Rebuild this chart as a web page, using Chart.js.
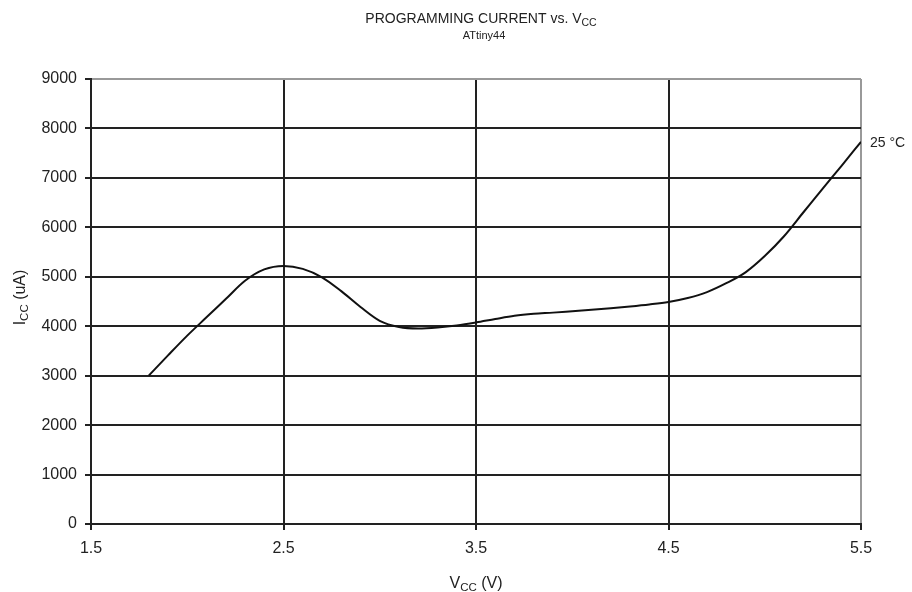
<!DOCTYPE html>
<html>
<head>
<meta charset="utf-8">
<script src="https://cdn.jsdelivr.net/npm/chart.js@4/dist/chart.umd.min.js"></script>
<style>
html,body{margin:0;padding:0;background:#fff;}
#wrap{width:912px;height:592px;position:relative;}
</style>
</head>
<body>
<div id="wrap"><canvas id="c" width="912" height="592"></canvas></div>
<script>
// ---- data ----
const vcc = [1.8,1.9,2.0,2.1,2.2,2.3,2.4,2.5,2.6,2.7,2.8,2.9,3.0,3.1,3.2,3.3,3.4,3.5,3.6,3.7,3.8,3.9,4.0,4.1,4.2,4.3,4.4,4.5,4.6,4.7,4.8,4.9,5.0,5.1,5.2,5.3,5.4,5.5];
const icc25 = [3000,3410,3810,4180,4550,4920,5150,5220,5160,4990,4710,4390,4110,3985,3955,3975,4015,4075,4145,4210,4250,4275,4305,4335,4365,4400,4440,4490,4570,4690,4870,5090,5420,5820,6300,6780,7250,7730];
const xTicks = [1.5,2.5,3.5,4.5,5.5];
const yTicks = [0,1000,2000,3000,4000,5000,6000,7000,8000,9000];
const seriesLabel = '25 °C';
const titleMain = 'PROGRAMMING CURRENT vs. V';
const titleSub = 'CC';
const subtitle = 'ATtiny44';
const xTitle = ['V','CC',' (V)'];
const yTitle = ['I','CC',' (uA)'];

const FONT = '"Liberation Sans", Arial, Helvetica, sans-serif';
const TXT = '#222';
const DARK = '#222';
const GRAY = '#999';

function drawSub(ctx, parts, x, y, big, small, align) {
  ctx.font = big + 'px ' + FONT;
  const w0 = ctx.measureText(parts[0]).width;
  const w2 = ctx.measureText(parts[2]).width;
  ctx.font = small + 'px ' + FONT;
  const w1 = ctx.measureText(parts[1]).width;
  const total = w0 + w1 + w2;
  let sx = align === 'center' ? x - total / 2 : x;
  ctx.textBaseline = 'alphabetic';
  ctx.textAlign = 'left';
  ctx.font = big + 'px ' + FONT;
  ctx.fillText(parts[0], sx, y);
  ctx.font = small + 'px ' + FONT;
  ctx.fillText(parts[1], sx + w0, y + big * 0.18);
  ctx.font = big + 'px ' + FONT;
  ctx.fillText(parts[2], sx + w0 + w1, y);
}

const textPlugin = {
  id: 'texts',
  afterDraw(chart) {
    const ctx = chart.ctx;
    const a = chart.chartArea;
    const cx = (a.left + a.right) / 2;
    ctx.save();
    ctx.fillStyle = TXT;
    drawSub(ctx, [titleMain, titleSub, ''], cx + 5, 23, 14, 10.5, 'center');
    ctx.font = '11px ' + FONT;
    ctx.textAlign = 'center';
    ctx.textBaseline = 'middle';
    ctx.fillText(subtitle, cx + 8, 36);
    drawSub(ctx, xTitle, cx, 588, 16, 11.5, 'center');
    ctx.save();
    ctx.translate(25, (a.top + a.bottom) / 2 - 4);
    ctx.rotate(-Math.PI / 2);
    drawSub(ctx, yTitle, 0, 0, 16, 11.5, 'center');
    ctx.restore();
    const ds = chart.getDatasetMeta(0);
    const last = ds.data[ds.data.length - 1];
    ctx.font = '14px ' + FONT;
    ctx.textAlign = 'left';
    ctx.textBaseline = 'middle';
    ctx.fillText(seriesLabel, a.right + 9, last.y + 1);
    ctx.restore();
  }
};

new Chart(document.getElementById('c'), {
  type: 'line',
  data: {
    datasets: [{
      label: seriesLabel,
      data: vcc.map((v, i) => ({x: v, y: icc25[i]})),
      borderColor: '#111',
      borderWidth: 2,
      pointRadius: 0,
      cubicInterpolationMode: 'monotone',
      fill: false
    }]
  },
  options: {
    responsive: false,
    animation: false,
    devicePixelRatio: 1,
    layout: {padding: {left: 0, top: 79, right: 51, bottom: 0}},
    plugins: {legend: {display: false}, title: {display: false}, tooltip: {enabled: false}},
    scales: {
      x: {
        type: 'linear',
        min: 1.5, max: 5.5,
        afterBuildTicks(s) { s.ticks = xTicks.map(v => ({value: v})); },
        afterFit(s) { s.height = 68; },
        ticks: {
          color: TXT, font: {family: FONT, size: 16}, padding: 9,
          callback: v => v.toFixed(1)
        },
        grid: {
          color: c => (c.tick && c.tick.value === 5.5) ? GRAY : DARK,
          lineWidth: 2, tickLength: 6, tickColor: DARK, drawTicks: true
        },
        border: {color: DARK, width: 2}
      },
      y: {
        type: 'linear',
        min: 0, max: 9000,
        afterBuildTicks(s) { s.ticks = yTicks.map(v => ({value: v})); },
        afterFit(s) { s.width = 91; },
        ticks: {
          color: TXT, font: {family: FONT, size: 16}, padding: 8,
          callback: v => String(v)
        },
        grid: {
          color: c => (c.tick && c.tick.value === 9000) ? GRAY : DARK,
          lineWidth: 2, tickLength: 6, tickColor: DARK, drawTicks: true
        },
        border: {color: DARK, width: 2}
      }
    }
  },
  plugins: [textPlugin]
});
</script>
</body>
</html>
